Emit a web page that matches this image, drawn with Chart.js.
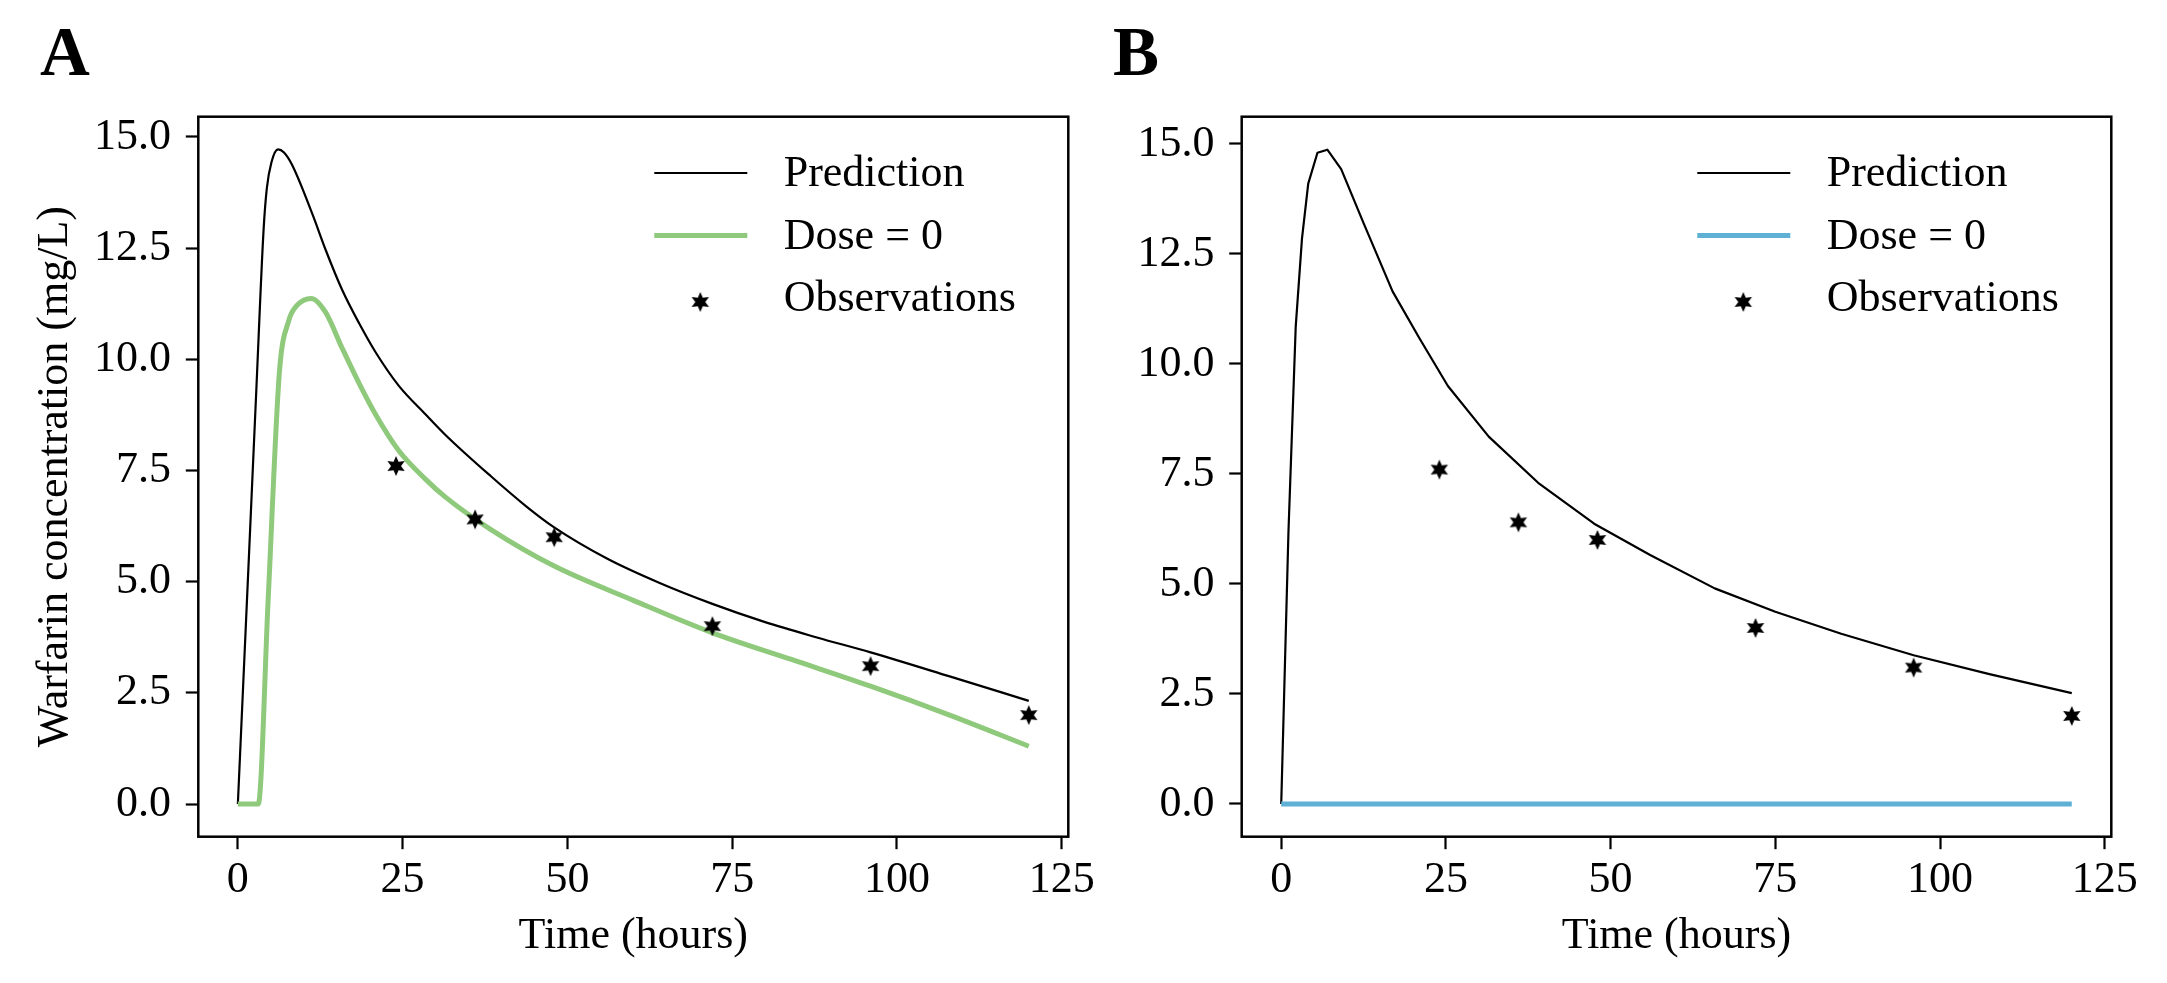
<!DOCTYPE html>
<html>
<head>
<meta charset="utf-8">
<script src="https://cdn.jsdelivr.net/npm/chart.js@4.4.1/dist/chart.umd.min.js"></script>
<style>
html,body{margin:0;padding:0;background:#fff;overflow:hidden}
#wrap{position:relative;width:2167px;height:983px}
canvas{position:absolute;top:0}
#cA{left:0}
#cB{left:1083px}
</style>
</head>
<body>
<div id="wrap">
  <canvas id="cA" width="1130" height="983"></canvas>
  <canvas id="cB" width="1084" height="983"></canvas>
</div>
<script>
// observations (same in both panels)
const obsTime = [24, 36, 48, 72, 96, 120];
const obsConc = [7.6, 6.4, 6.0, 4.0, 3.1, 2.0];

// panel A
const predTimeA = [0, 1.6, 2.8, 3.9, 4.4, 5.1, 6.1, 7.0, 8.2, 11.3, 13.3, 15.8, 18.4, 20.9, 24.4, 28.5, 31.5, 38.4, 43.7, 48, 56, 64, 72, 80, 88, 96, 108, 120];
const predConcA = [0, 5.3, 9.3, 12.9, 13.85, 14.43, 14.72, 14.65, 14.38, 13.27, 12.47, 11.57, 10.81, 10.16, 9.41, 8.76, 8.30, 7.37, 6.70, 6.22, 5.52, 4.97, 4.5, 4.09, 3.74, 3.41, 2.87, 2.32];
const doseTimeA = [0, 3.1, 4.6, 6.3, 7.7, 8.9, 11.15, 13.3, 15.8, 18.4, 20.9, 24.4, 28.5, 31.5, 38.4, 48, 60, 72, 84, 96, 108, 120];
const doseConcA = [0, 0, 4.6, 9.7, 10.86, 11.2, 11.37, 11.06, 10.26, 9.46, 8.76, 7.95, 7.30, 6.90, 6.17, 5.35, 4.58, 3.85, 3.25, 2.65, 2.0, 1.3];

// panel B
const predTimeB = [0, 1.1, 2.2, 3.15, 4.1, 5.5, 7.0, 9.1, 12.5, 16.9, 21, 25.3, 31.5, 39, 47.5, 56, 65.8, 75, 85, 96, 107.5, 120];
const predConcB = [0, 6.2, 10.85, 12.85, 14.1, 14.8, 14.87, 14.43, 13.2, 11.65, 10.58, 9.5, 8.35, 7.3, 6.37, 5.66, 4.9, 4.37, 3.87, 3.38, 2.95, 2.52];
const doseTimeB = [0, 120];
const doseConcB = [0, 0];

const xTicks = [0, 25, 50, 75, 100, 125];
const xTickLabels = ['0', '25', '50', '75', '100', '125'];
const yTicks = [0, 2.5, 5, 7.5, 10, 12.5, 15];
const yTickLabels = ['0.0', '2.5', '5.0', '7.5', '10.0', '12.5', '15.0'];

const FONT = '"Liberation Serif", "Times New Roman", serif';
Chart.defaults.font.family = FONT;
Chart.defaults.font.size = 44;
Chart.defaults.color = '#000';

function toXY(xs, ys){ return xs.map((x, i) => ({x, y: ys[i]})); }

function starMarker(r){
  const c = document.createElement('canvas');
  const s = Math.ceil(r*2 + 2);
  c.width = c.height = s;
  const g = c.getContext('2d');
  g.translate(s/2, s/2);
  g.beginPath();
  for(let i=0;i<12;i++){
    const a = -Math.PI/2 + i*Math.PI/6;
    const rr = i%2 ? r*0.5 : r;
    g.lineTo(rr*Math.cos(a), rr*Math.sin(a));
  }
  g.closePath(); g.fillStyle = '#000'; g.fill();
  return c;
}
const STAR = starMarker(10);

const panelDeco = {
  id:'panelDeco',
  afterDraw(chart, _args, opts){
    const {ctx, chartArea:{left, top, right, bottom}} = chart;
    ctx.save();
    ctx.strokeStyle = '#000'; ctx.lineWidth = 2.5;
    ctx.strokeRect(left, top, right-left, bottom-top);
    ctx.fillStyle = '#000'; ctx.textAlign = 'left';
    ctx.font = `bold 69px ${FONT}`; ctx.textBaseline = 'alphabetic';
    ctx.fillText(opts.letter, opts.letterX, 75);
    // legend, upper right, no frame
    ctx.font = `44px ${FONT}`; ctx.textBaseline = 'middle';
    chart.data.datasets.forEach((ds, i) => {
      const y = top + 56.3 + i*62.5;
      if(ds.showLine === false){
        const img = ds.pointStyle;
        ctx.drawImage(img, right - 368 - img.width/2, y + 4 - img.height/2);
      } else {
        ctx.strokeStyle = ds.borderColor; ctx.lineWidth = ds.borderWidth; ctx.lineCap = 'butt';
        ctx.beginPath(); ctx.moveTo(right - 414, y); ctx.lineTo(right - 321, y); ctx.stroke();
      }
      ctx.fillText(ds.label, right - 284.6, y + 1.7);
    });
    ctx.restore();
  }
};

function makePanel(id, letter, letterX, datasets, yMin, yMax, yWidth, padRight, yTitle){
  return new Chart(document.getElementById(id), {
    type:'line',
    data:{datasets},
    options:{
      responsive:false, animation:false, devicePixelRatio:1,
      layout:{padding:{top:116.7, right:padRight, left:0, bottom:0}},
      plugins:{legend:{display:false}, tooltip:{enabled:false}, panelDeco:{letter, letterX}},
      elements:{line:{borderJoinStyle:'round'}},
      scales:{
        x:{
          type:'linear', min:-6, max:126,
          afterBuildTicks: s => { s.ticks = xTicks.map(v => ({value:v})); },
          afterFit: s => { s.height = 146.3; s.paddingLeft = 0; s.paddingRight = 0; },
          ticks:{callback:(v, i) => xTickLabels[i], padding:5, maxRotation:0, autoSkip:false},
          grid:{drawOnChartArea:false, tickLength:12.5, tickWidth:2.2, tickColor:'#000'},
          border:{display:false},
          title:{display:true, text:'Time (hours)', padding:{top:0, bottom:20.6}}
        },
        y:{
          type:'linear', min:yMin, max:yMax,
          afterBuildTicks: s => { s.ticks = yTicks.map(v => ({value:v})); },
          afterFit: s => { s.width = yWidth; s.paddingTop = 0; s.paddingBottom = 0; },
          ticks:{callback:(v, i) => yTickLabels[i], padding:14.8, autoSkip:false},
          grid:{drawOnChartArea:false, tickLength:12.5, tickWidth:2.2, tickColor:'#000'},
          border:{display:false},
          title:{display:!!yTitle, text:yTitle || '', padding:{top:28.6, bottom:0}}
        }
      }
    },
    plugins:[panelDeco]
  });
}

makePanel('cA', 'A', 40, [
  {label:'Prediction', data:toXY(predTimeA, predConcA), borderColor:'#000', borderWidth:2.2, pointRadius:0, cubicInterpolationMode:'monotone', order:2},
  {label:'Dose = 0', data:toXY(doseTimeA, doseConcA), borderColor:'#8fc97b', borderWidth:5, pointRadius:0, cubicInterpolationMode:'monotone', order:1},
  {label:'Observations', data:toXY(obsTime, obsConc), showLine:false, pointStyle:STAR, pointRadius:10, order:0}
], -0.735, 15.456, 198.3, 61.7, 'Warfarin concentration (mg/L)');

makePanel('cB', 'B', 30, [
  {label:'Prediction', data:toXY(predTimeB, predConcB), borderColor:'#000', borderWidth:2.2, pointRadius:0, tension:0, order:2},
  {label:'Dose = 0', data:toXY(doseTimeB, doseConcB), borderColor:'#5eb0d5', borderWidth:5, pointRadius:0, tension:0, order:1},
  {label:'Observations', data:toXY(obsTime, obsConc), showLine:false, pointStyle:STAR, pointRadius:10, order:0}
], -0.744, 15.62, 158.7, 55.7, null);
</script>
</body>
</html>
